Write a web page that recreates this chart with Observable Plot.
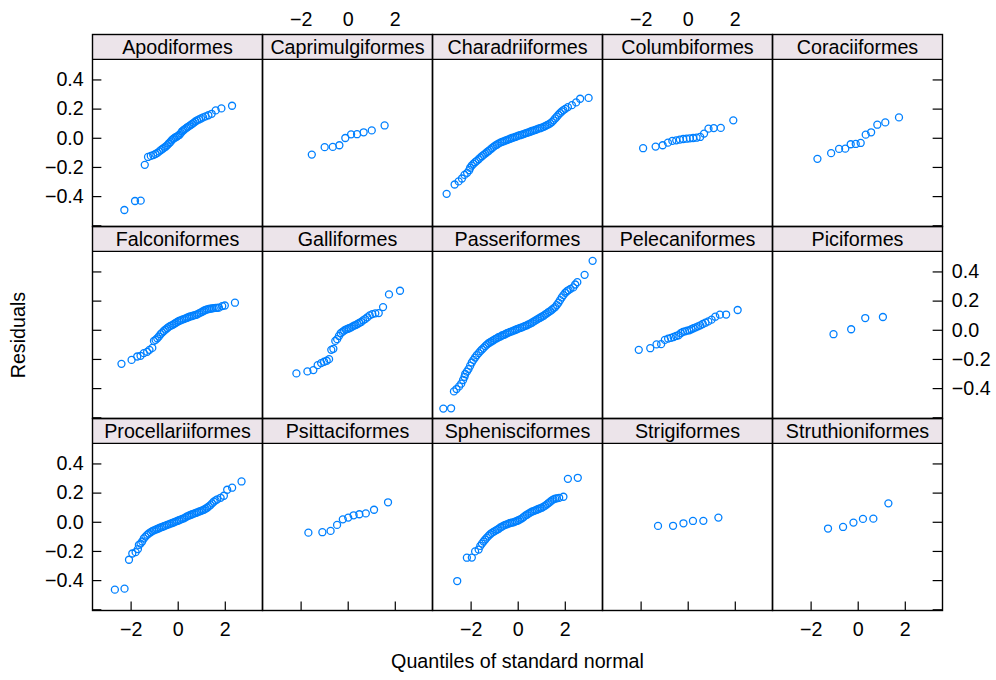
<!DOCTYPE html>
<html><head><meta charset="utf-8">
<script src="https://cdn.jsdelivr.net/npm/d3@7"></script>
<script src="https://cdn.jsdelivr.net/npm/@observablehq/plot@0.6"></script>
<style>
  html, body { margin: 0; padding: 0; background: #fff; }
  #chart { width: 996px; height: 680px; }
</style>
</head><body><div id="chart"></div>
<script>
// ---------- data: [theoretical normal quantile, residual] ----------
const orders = ["Apodiformes","Caprimulgiformes","Charadriiformes","Columbiformes","Coraciiformes",
  "Falconiformes","Galliformes","Passeriformes","Pelecaniformes","Piciformes",
  "Procellariiformes","Psittaciformes","Sphenisciformes","Strigiformes","Struthioniformes"];

const apodiformes = [[-2.287,-0.492],[-1.834,-0.430],[-1.593,-0.428],[-1.420,-0.182],[-1.282,-0.128],[-1.164,-0.121],[-1.060,-0.115],[-0.967,-0.108],[-0.882,-0.100],[-0.802,-0.090],[-0.728,-0.080],[-0.657,-0.072],[-0.589,-0.064],[-0.524,-0.056],[-0.461,-0.047],[-0.400,-0.036],[-0.341,-0.027],[-0.282,-0.015],[-0.225,-0.006],[-0.168,0.001],[-0.112,0.007],[-0.056,0.011],[0,0.018],[0.056,0.024],[0.112,0.035],[0.168,0.048],[0.225,0.055],[0.282,0.063],[0.341,0.070],[0.400,0.077],[0.461,0.083],[0.524,0.090],[0.589,0.098],[0.657,0.106],[0.728,0.115],[0.802,0.123],[0.882,0.129],[0.967,0.136],[1.060,0.143],[1.164,0.150],[1.282,0.158],[1.420,0.168],[1.593,0.191],[1.834,0.205],[2.287,0.223]];

const caprimulgiformes = [[-1.546,-0.112],[-1.000,-0.061],[-0.655,-0.059],[-0.375,-0.048],[-0.123,0.002],[0.123,0.027],[0.375,0.028],[0.655,0.041],[1.000,0.054],[1.546,0.088]];

const charadriiformes = [[-3.04,-0.381],[-2.70,-0.317],[-2.53,-0.296],[-2.39,-0.276],[-2.28,-0.251],[-2.17,-0.237],[-2.08,-0.219],
[-2.04,-0.202],[-1.97,-0.187],[-1.90,-0.175],[-1.83,-0.164],[-1.76,-0.155],[-1.68,-0.144],[-1.61,-0.133],[-1.54,-0.123],[-1.47,-0.114],[-1.40,-0.105],[-1.33,-0.096],[-1.26,-0.087],[-1.19,-0.078],[-1.12,-0.068],[-1.05,-0.059],[-0.98,-0.050],[-0.91,-0.044],[-0.84,-0.037],[-0.76,-0.030],[-0.69,-0.025],[-0.62,-0.021],[-0.55,-0.016],[-0.48,-0.012],[-0.41,-0.007],[-0.34,-0.003],[-0.27,0.002],[-0.20,0.005],[-0.13,0.009],[-0.06,0.013],[0.01,0.018],[0.08,0.021],[0.16,0.025],[0.23,0.029],[0.30,0.034],[0.37,0.037],[0.44,0.041],[0.51,0.045],[0.58,0.050],[0.65,0.053],[0.72,0.057],[0.79,0.061],[0.86,0.066],[0.93,0.069],[1.00,0.073],[1.08,0.078],[1.15,0.084],[1.22,0.090],[1.29,0.095],[1.36,0.102],[1.43,0.111],[1.50,0.123],[1.57,0.136],[1.64,0.148],[1.71,0.161],[1.78,0.173],[1.85,0.184],[1.92,0.193],[2.00,0.202],
[2.11,0.214],[2.28,0.227],[2.46,0.246],[2.63,0.271],[2.99,0.277]];

const columbiformes = [[-1.915,-0.068],[-1.383,-0.057],[-1.085,-0.048],[-0.861,-0.030],[-0.674,-0.018],[-0.508,-0.014],[-0.355,-0.009],[-0.210,-0.005],[-0.070,-0.003],[0.070,0.000],[0.210,0.002],[0.355,0.004],[0.508,0.009],[0.674,0.032],[0.861,0.066],[1.085,0.070],[1.383,0.071],[1.915,0.123]];

const coraciiformes = [[-1.732,-0.141],[-1.150,-0.102],[-0.812,-0.073],[-0.549,-0.071],[-0.319,-0.041],[-0.105,-0.039],[0.105,-0.032],[0.319,0.025],[0.549,0.041],[0.812,0.093],[1.150,0.109],[1.732,0.143]];

const falconiformes = [[-2.41,-0.230],[-1.98,-0.203],[-1.74,-0.180],[-1.60,-0.175],[-1.46,-0.157],[-1.32,-0.148],[-1.22,-0.134],[-1.10,-0.121],[-1.03,-0.073],
[-0.96,-0.066],[-0.89,-0.055],[-0.82,-0.043],[-0.75,-0.027],[-0.68,-0.016],[-0.61,-0.005],[-0.54,0.005],[-0.47,0.014],[-0.40,0.023],[-0.33,0.030],[-0.25,0.036],[-0.18,0.043],[-0.11,0.050],[-0.04,0.057],[0.03,0.064],[0.10,0.068],[0.17,0.073],[0.24,0.077],[0.31,0.082],[0.38,0.086],[0.45,0.091],[0.52,0.096],[0.59,0.098],[0.67,0.102],[0.74,0.105],[0.81,0.109],[0.88,0.116],[0.95,0.121],[1.02,0.127],[1.09,0.134],[1.16,0.139],[1.23,0.143],[1.30,0.146],[1.37,0.148],[1.44,0.150],[1.51,0.152],[1.59,0.153],[1.66,0.154],[1.73,0.155],
[1.87,0.166],[1.98,0.170],[2.41,0.189]];

const galliformes = [[-2.200,-0.296],[-1.732,-0.282],[-1.480,-0.273],[-1.297,-0.239],[-1.150,-0.225],[-1.024,-0.216],[-0.913,-0.209],[-0.812,-0.198],[-0.719,-0.134],[-0.631,-0.127],[-0.548,-0.073],[-0.469,-0.061],[-0.393,-0.039],[-0.319,-0.020],[-0.246,-0.011],[-0.175,-0.002],[-0.105,0.005],[-0.035,0.009],[0.035,0.014],[0.105,0.018],[0.175,0.025],[0.246,0.032],[0.319,0.036],[0.393,0.043],[0.469,0.050],[0.548,0.057],[0.631,0.068],[0.719,0.077],[0.812,0.089],[0.913,0.102],[1.024,0.111],[1.150,0.116],[1.297,0.118],[1.480,0.159],[1.732,0.246],[2.200,0.271]];

const passeriformes = [[-3.18,-0.537],[-2.85,-0.535],[-2.73,-0.419],[-2.62,-0.403],[-2.51,-0.385],[-2.42,-0.366],[-2.34,-0.341],[-2.28,-0.319],
[-2.25,-0.300],[-2.18,-0.284],[-2.11,-0.266],[-2.04,-0.243],[-1.97,-0.221],[-1.90,-0.203],[-1.83,-0.187],[-1.76,-0.171],[-1.68,-0.157],[-1.61,-0.143],[-1.54,-0.132],[-1.47,-0.121],[-1.40,-0.109],[-1.33,-0.098],[-1.26,-0.089],[-1.19,-0.082],[-1.12,-0.075],[-1.05,-0.068],[-0.98,-0.061],[-0.91,-0.055],[-0.84,-0.048],[-0.76,-0.043],[-0.69,-0.036],[-0.62,-0.032],[-0.55,-0.027],[-0.48,-0.020],[-0.41,-0.016],[-0.34,-0.011],[-0.27,-0.007],[-0.20,-0.002],[-0.13,0.002],[-0.06,0.007],[0.01,0.011],[0.08,0.016],[0.16,0.020],[0.23,0.025],[0.30,0.030],[0.37,0.034],[0.44,0.041],[0.51,0.046],[0.58,0.052],[0.65,0.059],[0.72,0.066],[0.79,0.073],[0.86,0.080],[0.93,0.086],[1.00,0.093],[1.08,0.100],[1.15,0.109],[1.22,0.116],[1.29,0.125],[1.36,0.132],[1.43,0.141],[1.50,0.150],[1.57,0.159],[1.64,0.173],[1.71,0.189],[1.78,0.207],[1.85,0.225],[1.92,0.241],[2.00,0.257],[2.07,0.268],[2.14,0.275],
[2.22,0.284],[2.34,0.294],[2.42,0.314],[2.51,0.330],[2.82,0.380],[3.16,0.476]];

const pelecaniformes = [[-2.100,-0.134],[-1.611,-0.123],[-1.345,-0.097],[-1.150,-0.095],[-0.992,-0.066],[-0.854,-0.057],[-0.732,-0.052],[-0.619,-0.046],[-0.514,-0.039],[-0.414,-0.034],[-0.319,-0.020],[-0.225,-0.011],[-0.135,-0.007],[-0.045,-0.002],[0.045,0.000],[0.135,0.007],[0.225,0.014],[0.319,0.020],[0.414,0.027],[0.514,0.034],[0.619,0.043],[0.732,0.052],[0.854,0.061],[0.992,0.073],[1.150,0.093],[1.345,0.107],[1.611,0.108],[2.100,0.139]];

const piciformes = [[-1.049,-0.027],[-0.299,0.007],[0.299,0.084],[1.049,0.091]];

const procellariiformes = [[-2.69,-0.462],[-2.28,-0.455],[-2.09,-0.257],[-1.95,-0.214],[-1.81,-0.205],[-1.71,-0.184],[-1.67,-0.155],
[-1.60,-0.146],[-1.53,-0.132],[-1.46,-0.111],[-1.39,-0.098],[-1.32,-0.086],[-1.25,-0.077],[-1.17,-0.068],[-1.10,-0.061],[-1.03,-0.055],[-0.96,-0.050],[-0.89,-0.046],[-0.82,-0.041],[-0.75,-0.036],[-0.68,-0.032],[-0.61,-0.027],[-0.54,-0.023],[-0.47,-0.018],[-0.40,-0.014],[-0.33,-0.009],[-0.25,-0.005],[-0.18,0.000],[-0.11,0.005],[-0.04,0.009],[0.03,0.014],[0.10,0.018],[0.17,0.023],[0.24,0.027],[0.31,0.034],[0.38,0.041],[0.45,0.046],[0.52,0.050],[0.59,0.055],[0.67,0.059],[0.74,0.064],[0.81,0.068],[0.88,0.073],[0.95,0.077],[1.02,0.082],[1.09,0.086],[1.16,0.093],[1.23,0.100],[1.30,0.109],[1.37,0.118],[1.44,0.130],[1.51,0.141],[1.59,0.150],[1.66,0.157],
[1.80,0.168],[1.94,0.182],[2.08,0.223],[2.29,0.237],[2.69,0.280]];

const psittaciformes = [[-1.691,-0.071],[-1.097,-0.068],[-0.748,-0.059],[-0.473,-0.018],[-0.229,0.020],[0,0.032],[0.229,0.048],[0.473,0.055],[0.748,0.061],[1.097,0.086],[1.691,0.137]];

const sphenisciformes = [[-2.59,-0.403],[-2.18,-0.243],[-1.97,-0.242],[-1.83,-0.200],[-1.68,-0.187],[-1.61,-0.162],
[-1.54,-0.146],[-1.47,-0.132],[-1.40,-0.118],[-1.33,-0.105],[-1.26,-0.093],[-1.19,-0.082],[-1.12,-0.073],[-1.05,-0.066],[-0.98,-0.059],[-0.91,-0.052],[-0.84,-0.046],[-0.76,-0.036],[-0.69,-0.030],[-0.62,-0.023],[-0.55,-0.018],[-0.48,-0.014],[-0.41,-0.009],[-0.34,-0.005],[-0.27,-0.002],[-0.20,0.000],[-0.13,0.005],[-0.06,0.009],[0.01,0.014],[0.08,0.020],[0.16,0.027],[0.23,0.036],[0.30,0.046],[0.37,0.052],[0.44,0.059],[0.51,0.066],[0.58,0.073],[0.65,0.077],[0.72,0.082],[0.79,0.086],[0.86,0.091],[0.93,0.096],[1.00,0.100],[1.08,0.107],[1.15,0.114],[1.22,0.123],[1.29,0.132],[1.36,0.141],[1.43,0.150],[1.50,0.157],[1.57,0.162],[1.64,0.164],
[1.74,0.168],[1.92,0.175],[2.11,0.298],[2.53,0.305]];

const strigiformes = [[-1.282,-0.025],[-0.643,-0.024],[-0.202,-0.007],[0.202,0.009],[0.643,0.010],[1.282,0.032]];

const struthioniformes = [[-1.282,-0.043],[-0.643,-0.032],[-0.202,-0.002],[0.202,0.023],[0.643,0.025],[1.282,0.130]];

const seriesByOrder = [apodiformes, caprimulgiformes, charadriiformes, columbiformes, coraciiformes,
  falconiformes, galliformes, passeriformes, pelecaniformes, piciformes,
  procellariiformes, psittaciformes, sphenisciformes, strigiformes, struthioniformes];

const xTickValues = [-2, 0, 2];
const yTickValues = [-0.6, -0.4, -0.2, 0, 0.2, 0.4];
const yLabelValues = [-0.4, -0.2, 0, 0.2, 0.4];
const xTitle = "Quantiles of standard normal";
const yTitle = "Residuals";

// ---------- layout ----------
const W = 996, H = 680;
const mL = 92, mR = 53.3, mT = 33, mB = 68.3;
const nCols = 5, nRows = 3;
const facetW = (W - mL - mR) / nCols;
const facetH = (H - mT - mB) / nRows;
const stripPx = 25;
const tickLen = 9.5;
const fontSize = 19.7;
const xDomain = [-3.64, 3.58];
const panelY = [-0.605, 0.541];
const unitsPerPx = (panelY[1] - panelY[0]) / (facetH - stripPx);
const yDomain = [panelY[0], panelY[1] + stripPx * unitsPerPx];

const panels = orders.map((name, i) => ({name, col: i % nCols, row: Math.floor(i / nCols)}));
const points = panels.flatMap((p, i) => seriesByOrder[i].map(([q, r]) => ({...p, q, r})));

const rows = d3.range(nRows), cols = d3.range(nCols);
const leftTicks = rows.flatMap(row => yTickValues.map(v => ({row, col: 0, v})));
const rightTicks = rows.flatMap(row => yTickValues.map(v => ({row, col: nCols - 1, v})));
const bottomTicks = cols.flatMap(col => xTickValues.map(v => ({row: nRows - 1, col, v})));
const leftLabels = [0, 2].flatMap(row => yLabelValues.map(v => ({row, col: 0, v})));
const rightLabels = [1].flatMap(row => yLabelValues.map(v => ({row, col: nCols - 1, v})));
const bottomLabels = [0, 2, 4].flatMap(col => xTickValues.map(v => ({row: nRows - 1, col, v})));
const topLabels = [1, 3].flatMap(col => xTickValues.map(v => ({row: 0, col, v})));

const fmtY = d3.format(".1f");
const fmtX = d3.format("d");
const lineColor = "#000";

const chart = Plot.plot({
  width: W, height: H,
  marginLeft: mL, marginRight: mR, marginTop: mT, marginBottom: mB,
  style: {fontFamily: "'Liberation Sans', Arial, Helvetica, sans-serif", fontSize: fontSize + "px", background: "#fff", color: "#000"},
  fx: {domain: cols, padding: 0, axis: null},
  fy: {domain: rows, padding: 0, axis: null},
  x: {domain: xDomain, axis: null},
  y: {domain: yDomain, axis: null},
  marks: [
    Plot.rect(panels, {fx: "col", fy: "row", x1: xDomain[0], x2: xDomain[1], y1: panelY[1], y2: yDomain[1], fill: "#ece4ea"}),
    Plot.text(panels, {fx: "col", fy: "row", text: "name", frameAnchor: "top", lineAnchor: "middle", textAnchor: "middle", dy: stripPx / 2 + 0.5, fontSize, fill: "#000"}),
    Plot.dot(points, {fx: "col", fy: "row", x: "q", y: "r", r: 3.5, stroke: "#0080ff", strokeWidth: 1.3, fill: "none"}),
    Plot.tickY(leftTicks, {fx: "col", fy: "row", y: "v", insetRight: facetW - tickLen, stroke: lineColor, strokeWidth: 1.2}),
    Plot.tickY(rightTicks, {fx: "col", fy: "row", y: "v", insetLeft: facetW - tickLen, stroke: lineColor, strokeWidth: 1.2}),
    Plot.tickX(bottomTicks, {fx: "col", fy: "row", x: "v", insetTop: facetH - tickLen, stroke: lineColor, strokeWidth: 1.2}),
    Plot.ruleY(panels, {fx: "col", fy: "row", y: panelY[1], stroke: lineColor, strokeWidth: 1.3}),
    Plot.frame({stroke: lineColor, strokeWidth: 1.4}),
    Plot.text(leftLabels, {fx: "col", fy: "row", y: "v", text: d => fmtY(d.v), frameAnchor: "left", lineAnchor: "middle", textAnchor: "end", dx: -8.7, fontSize}),
    Plot.text(rightLabels, {fx: "col", fy: "row", y: "v", text: d => fmtY(d.v), frameAnchor: "right", lineAnchor: "middle", textAnchor: "start", dx: 9.3, fontSize}),
    Plot.text(bottomLabels, {fx: "col", fy: "row", x: "v", text: d => fmtX(d.v), frameAnchor: "bottom", lineAnchor: "middle", textAnchor: "middle", dy: 19, fontSize}),
    Plot.text(topLabels, {fx: "col", fy: "row", x: "v", text: d => fmtX(d.v), frameAnchor: "top", lineAnchor: "middle", textAnchor: "middle", dy: -14.5, fontSize}),
    Plot.text([{col: 2, row: nRows - 1, label: xTitle}], {fx: "col", fy: "row", text: "label", frameAnchor: "bottom", lineAnchor: "middle", textAnchor: "middle", dy: 51, fontSize}),
    Plot.text([{col: 0, row: 1, label: yTitle}], {fx: "col", fy: "row", text: "label", frameAnchor: "left", lineAnchor: "middle", textAnchor: "middle", rotate: -90, dx: 17.7 - mL, dy: 12.6, fontSize})
  ]
});
document.getElementById("chart").appendChild(chart);
</script>
</body></html>
